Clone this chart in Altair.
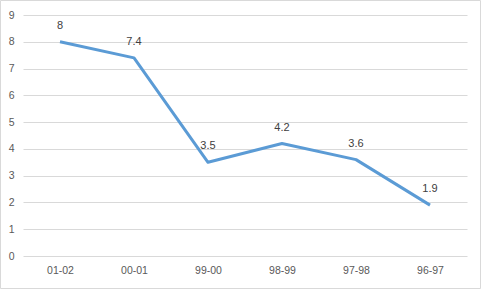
import altair as alt
import pandas as pd

years = ["01-02", "00-01", "99-00", "98-99", "97-98", "96-97"]
values = [8, 7.4, 3.5, 4.2, 3.6, 1.9]

df = pd.DataFrame({"year": years, "value": values})

FONT = "Liberation Sans"
W, H = 444, 241

x = alt.X("year:N", sort=years,
          scale=alt.Scale(type="point", padding=0.5),
          axis=alt.Axis(title=None, labelAngle=0, ticks=False, domain=False,
                        labelColor="#595959", labelFontSize=10.5, labelFont=FONT,
                        labelPadding=9, grid=False))
y = alt.Y("value:Q",
          scale=alt.Scale(domain=[0, 9], nice=False),
          axis=alt.Axis(title=None, values=list(range(10)), ticks=False, domain=False,
                        labelColor="#595959", labelFontSize=10.5, labelFont=FONT,
                        labelPadding=9, gridColor="#d9d9d9", gridWidth=1))

line = alt.Chart(df).mark_line(color="#5b9bd5", strokeWidth=3, strokeJoin="round").encode(x=x, y=y)
labels = alt.Chart(df).mark_text(dy=-16, color="#404040", fontSize=11, font=FONT).encode(
    x=x, y=y, text=alt.Text("value:Q"))

border = alt.Chart(pd.DataFrame({"a": [0]})).mark_rect(
    fill=None, stroke="#d9d9d9", strokeWidth=1).encode(
    x=alt.value(-22.5), x2=alt.value(W + 13.5), y=alt.value(-14.5), y2=alt.value(H + 32.5))

chart = alt.layer(border, line, labels).properties(
    width=W, height=H,
    padding={"left": 23, "top": 15, "right": 14, "bottom": 33},
    autosize=alt.AutoSizeParams(type="none"),
    background="white",
).configure_view(stroke=None)

chart.save("out.html", embed_options={"renderer": "svg", "actions": False})
